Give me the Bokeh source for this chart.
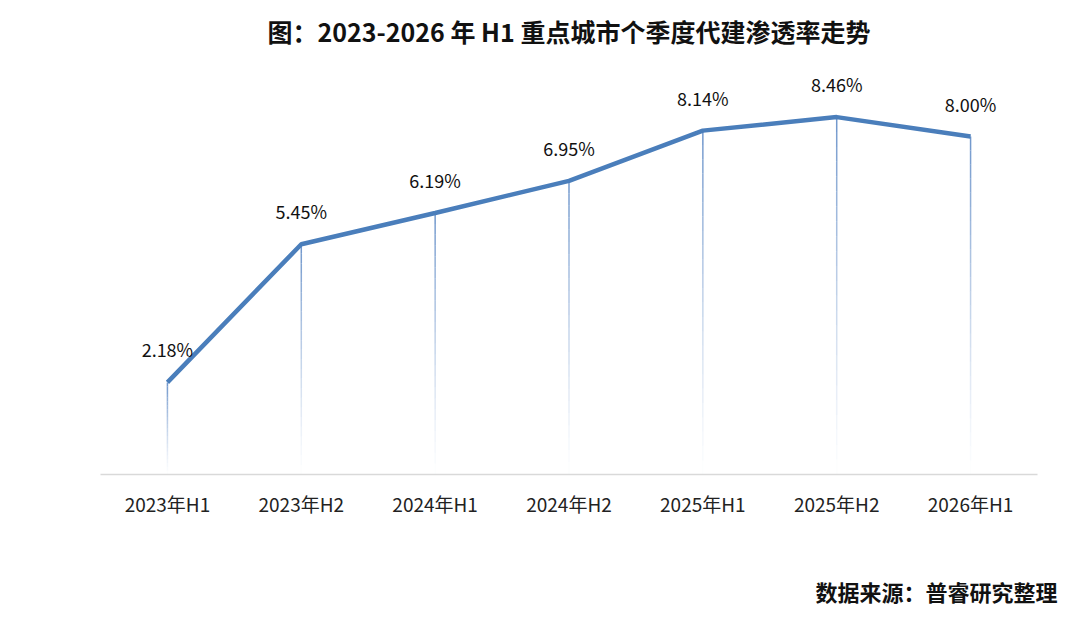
from bokeh.plotting import figure
from bokeh.models import ColumnDataSource, LabelSet, Range1d, Title
from bokeh.core.properties import value
from bokeh.embed import file_html
from bokeh.resources import INLINE

# 数据
periods = ["2023年H1", "2023年H2", "2024年H1", "2024年H2", "2025年H1", "2025年H2", "2026年H1"]
rates = [2.18, 5.45, 6.19, 6.95, 8.14, 8.46, 8.00]
rate_labels = ["2.18%", "5.45%", "6.19%", "6.95%", "8.14%", "8.46%", "8.00%"]

FONT = "Noto Sans CJK SC"
LINE_COLOR = "#4a7ebb"

source = ColumnDataSource(dict(period=periods, rate=rates, label=rate_labels))

p = figure(x_range=periods, y_range=Range1d(0, 9.8), width=1064, height=609,
           output_backend="svg", toolbar_location=None,
           min_border_left=100, min_border_right=27,
           min_border_top=60, min_border_bottom=135)
p.x_range.range_padding = 0

# 垂直引线，自上而下逐渐变淡
steps = 24
for i in range(steps):
    y0 = [r * i / steps for r in rates]
    y1 = [r * (i + 1) / steps for r in rates]
    p.segment(x0=periods, y0=y0, x1=periods, y1=y1, line_color="#5b87c4",
              line_width=1.5, line_alpha=0.85 * ((i + 1) / steps) ** 1.3)

p.line(x="period", y="rate", source=source, line_color=LINE_COLOR, line_width=4.5)

labels = LabelSet(x="period", y="rate", text="label", source=source,
                  text_align="center", text_baseline="bottom", y_offset=20,
                  text_font=value(FONT), text_font_size=value("18px"),
                  text_color=value("#111111"))
p.add_layout(labels)

# 标题
p.title.text = "图：2023-2026 年 H1 重点城市个季度代建渗透率走势"
p.title.align = "center"
p.title.vertical_align = "top"
p.title.text_font = FONT
p.title.text_font_size = "25px"
p.title.text_font_style = "bold"
p.title.text_color = "#111111"
p.title.standoff = 20

# 坐标轴
p.yaxis.visible = False
p.xaxis.axis_line_color = "#d9d9d9"
p.xaxis.axis_line_width = 1.5
p.xaxis.major_tick_line_color = None
p.xaxis.minor_tick_line_color = None
p.xaxis.major_tick_out = 0
p.xaxis.major_label_standoff = 15
p.xaxis.major_label_text_font = FONT
p.xaxis.major_label_text_font_size = "19px"
p.xaxis.major_label_text_color = "#222222"

# 轴标签与数据来源之间的空白
spacer = Title(text=" ", text_font_size="10px", standoff=40)
p.add_layout(spacer, "below")

source_note = Title(text="数据来源：普睿研究整理", align="right", text_font=FONT,
                    text_font_size="22px", text_font_style="bold", text_color="#111111",
                    standoff=0, offset=-20)
p.add_layout(source_note, "below")

p.xgrid.visible = False
p.ygrid.visible = False
p.outline_line_color = None

open("out.html", "w").write(file_html(p, INLINE))
